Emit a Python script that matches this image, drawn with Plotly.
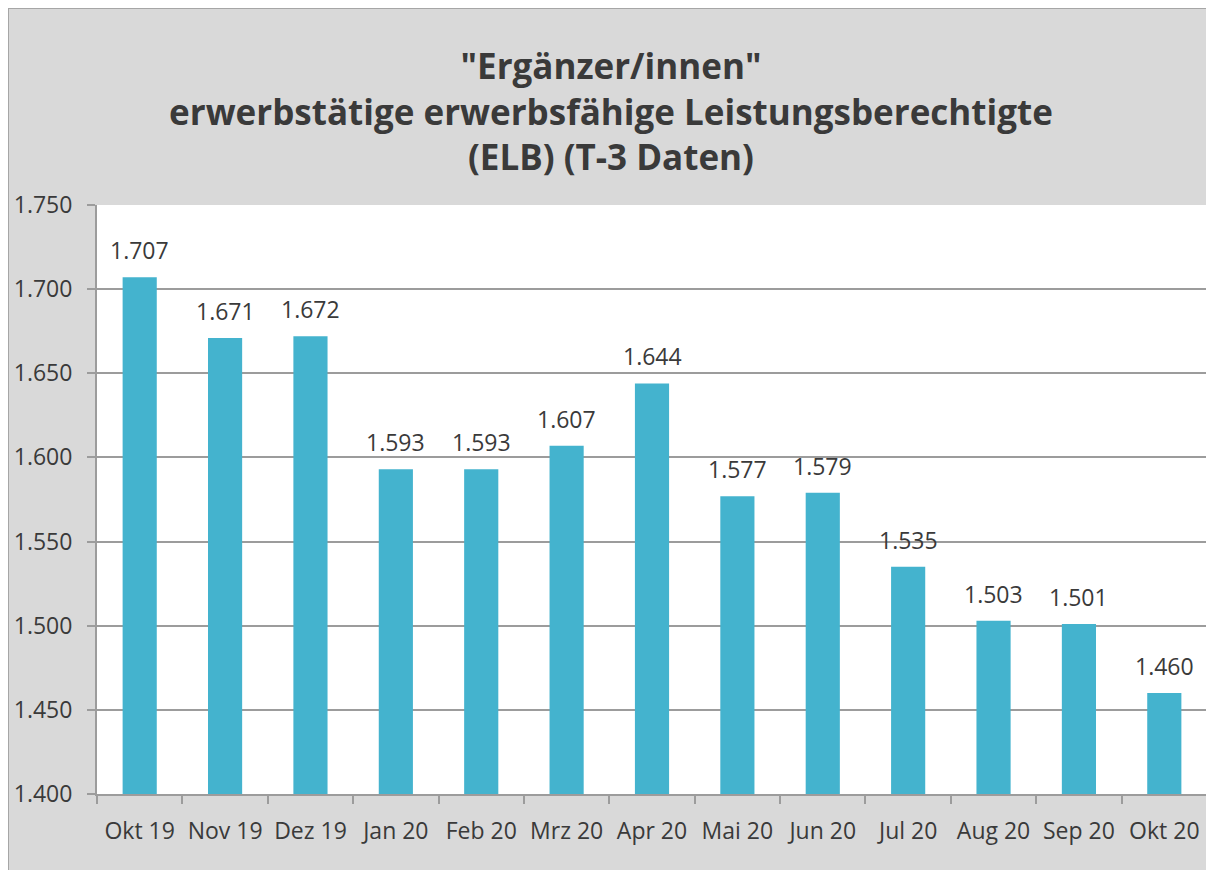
import plotly.graph_objects as go

categories = ["Okt 19", "Nov 19", "Dez 19", "Jan 20", "Feb 20", "Mrz 20", "Apr 20",
              "Mai 20", "Jun 20", "Jul 20", "Aug 20", "Sep 20", "Okt 20"]
values = [1707, 1671, 1672, 1593, 1593, 1607, 1644, 1577, 1579, 1535, 1503, 1501, 1460]
y_ticks = [1400, 1450, 1500, 1550, 1600, 1650, 1700, 1750]
title_lines = ['"Ergänzer/innen"', "erwerbstätige erwerbsfähige Leistungsberechtigte", "(ELB) (T-3 Daten)"]

FONT = "Open Sans"
TXT = "#3a3a3a"
LINE = "#9c9c9c"
W, H = 1214, 870
L, R, T, B = 89, 15, 197, 84
pw, ph = W - L - R, H - T - B

def de(v):
    return f"{v:,}".replace(",", ".")

fig = go.Figure()
fig.add_trace(go.Bar(
    x=categories, y=values, marker=dict(color="#44b3ce", line=dict(width=0)),
    hoverinfo="x+y",
))

for c, v in zip(categories, values):
    fig.add_annotation(x=c, y=v, text=de(v), showarrow=False, yanchor="middle",
                       yshift=27, font=dict(family=FONT, size=23, color=TXT))

# chart border + white plot area
fig.add_shape(type="rect", xref="paper", yref="paper",
              x0=-L / pw, x1=(W - L + 10) / pw,
              y0=-(B + 10) / ph, y1=(H - B) / ph,
              fillcolor="#d9d9d9", line=dict(color="#a6a6a6", width=2), layer="below")
fig.add_shape(type="rect", xref="paper", yref="paper", x0=0, x1=1, y0=0, y1=1,
              fillcolor="white", line=dict(width=0), layer="below")

fig.update_layout(
    width=W, height=H,
    margin=dict(l=L, r=R, t=T, b=B),
    paper_bgcolor="#d9d9d9", plot_bgcolor="rgba(0,0,0,0)",
    separators=",.",
    bargap=0.6,
    showlegend=False,
    title=dict(text="<br>".join(title_lines), x=603 / W, xref="container", xanchor="center",
               y=1 - 71 / H, yref="container", yanchor="top",
               font=dict(family=FONT, size=35, color=TXT, weight="bold")),
    font=dict(family=FONT, size=23, color=TXT),
)
fig.update_xaxes(showline=True, linecolor=LINE, linewidth=2, ticks="outside",
                 tickson="boundaries", ticklen=8, tickcolor=LINE, tickwidth=2,
                 tickfont=dict(family=FONT, size=23, color=TXT), ticklabelstandoff=15,
                 showgrid=False, automargin=False)
fig.update_yaxes(range=[1400, 1750], tickvals=y_ticks, tickformat=",d",
                 showline=True, linecolor=LINE, linewidth=2, ticks="outside",
                 ticklen=8, tickcolor=LINE, tickwidth=2,
                 showgrid=True, gridcolor=LINE, gridwidth=2,
                 tickfont=dict(family=FONT, size=23, color=TXT), ticklabelstandoff=10,
                 zeroline=False, automargin=False)

fig.write_html("out.html")
